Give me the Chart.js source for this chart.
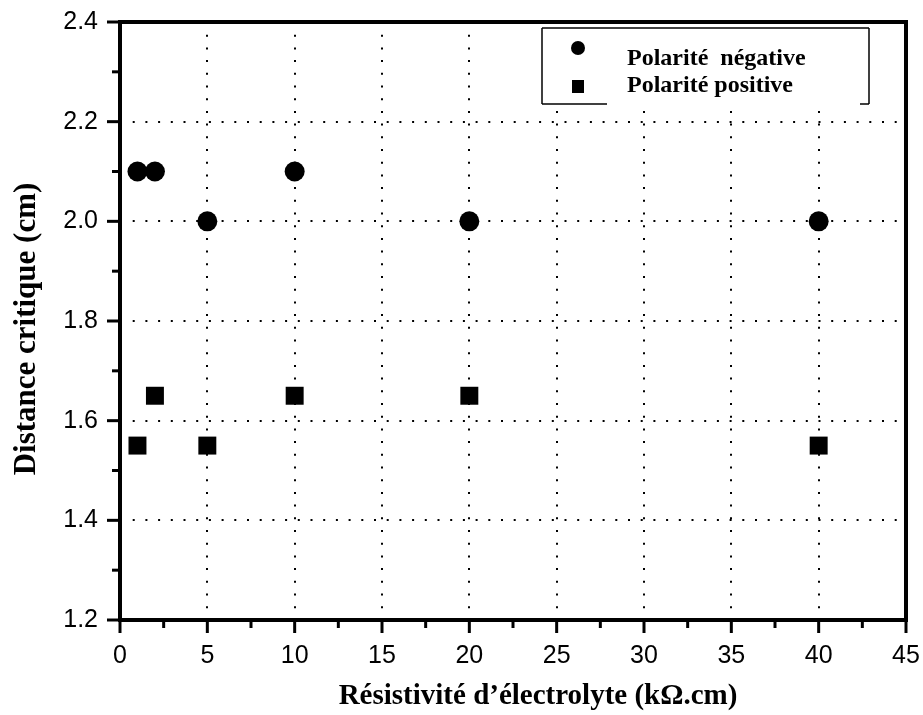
<!DOCTYPE html>
<html>
<head>
<meta charset="utf-8">
<script src="https://cdn.jsdelivr.net/npm/chart.js@4/dist/chart.umd.min.js"></script>
<style>
  html, body { margin: 0; padding: 0; background: #fff; }
  #wrap { width: 923px; height: 715px; }
</style>
</head>
<body>
<div id="wrap"><canvas id="c" width="923" height="715"></canvas></div>
<script>
// Critical distance versus electrolyte resistivity, for both polarities
const resistivity = [1, 2, 5, 10, 20, 40];                 // kΩ.cm
const negativePolarity = [2.1, 2.1, 2.0, 2.1, 2.0, 2.0];   // cm
const positivePolarity = [1.55, 1.65, 1.55, 1.65, 1.65, 1.55]; // cm

const seriesNames = ['Polarité  négative', 'Polarité positive'];
const xTitle = 'Résistivité d\u2019électrolyte (kΩ.cm)';
const yTitle = 'Distance critique (cm)';

const xTickValues = [0, 5, 10, 15, 20, 25, 30, 35, 40, 45];
const yTickValues = [1.2, 1.4, 1.6, 1.8, 2.0, 2.2, 2.4];
const xMinorValues = [2.5, 7.5, 12.5, 17.5, 22.5, 27.5, 32.5, 37.5, 42.5];
const yMinorValues = [1.3, 1.5, 1.7, 1.9, 2.1, 2.3];

const toPoints = ys => resistivity.map((r, i) => ({ x: r, y: ys[i] }));

const TICK_FONT = { family: 'Liberation Sans', size: 25 };
const X_TITLE_FONT = 'bold 29px "Liberation Serif"';
const Y_TITLE_FONT = 'bold 31px "Liberation Serif"';
const LEGEND_FONT = 'bold 24px "Liberation Serif"';

// Frame, outward major/minor ticks, axis titles and the legend box
const decorations = {
  id: 'decorations',
  afterDraw(chart) {
    const { ctx, chartArea: a, scales: { x, y } } = chart;
    ctx.save();
    ctx.strokeStyle = '#000';
    ctx.fillStyle = '#000';
    ctx.lineCap = 'butt';

    const seg = (x1, y1, x2, y2) => { ctx.beginPath(); ctx.moveTo(x1, y1); ctx.lineTo(x2, y2); ctx.stroke(); };

    ctx.lineWidth = 3;
    xTickValues.forEach(v => { const p = x.getPixelForValue(v); seg(p, a.bottom, p, a.bottom + 13); });
    xMinorValues.forEach(v => { const p = x.getPixelForValue(v); seg(p, a.bottom, p, a.bottom + 8); });
    yTickValues.forEach(v => { const p = y.getPixelForValue(v); seg(a.left, p, a.left - 13, p); });
    yMinorValues.forEach(v => { const p = y.getPixelForValue(v); seg(a.left, p, a.left - 8, p); });

    ctx.lineWidth = 4;
    ctx.strokeRect(a.left, a.top, a.right - a.left, a.bottom - a.top);

    // axis titles
    ctx.textAlign = 'center';
    ctx.textBaseline = 'alphabetic';
    ctx.font = X_TITLE_FONT;
    ctx.fillText(xTitle, 538, 704);
    ctx.save();
    ctx.font = Y_TITLE_FONT;
    ctx.translate(35, 329);
    ctx.rotate(-Math.PI / 2);
    ctx.fillText(yTitle, 0, 0);
    ctx.restore();

    // legend
    const L = 542, R = 869, T = 28, B = 104;
    ctx.fillStyle = '#fff';
    ctx.fillRect(L, T, R - L, B - T);
    ctx.fillStyle = '#000';
    ctx.lineWidth = 1.5;
    seg(L, B, L, T); seg(L, T, R, T); seg(R, T, R, B);
    seg(L, B, 607, B); seg(860, B, R, B);

    ctx.beginPath(); ctx.arc(578, 48, 7, 0, Math.PI * 2); ctx.fill();
    ctx.fillRect(572, 80, 12, 13);

    ctx.font = LEGEND_FONT;
    ctx.textAlign = 'left';
    ctx.fillText(seriesNames[0], 627, 65);
    ctx.fillText(seriesNames[1], 627, 92);
    ctx.restore();
  }
};

const gridColor = edges => c => (edges.includes(c.tick.value) ? 'rgba(0,0,0,0)' : '#000');

new Chart(document.getElementById('c'), {
  type: 'scatter',
  data: {
    datasets: [
      { label: seriesNames[0], data: toPoints(negativePolarity), pointStyle: 'circle',
        pointRadius: 10, pointBorderWidth: 0, backgroundColor: '#000', borderColor: '#000' },
      { label: seriesNames[1], data: toPoints(positivePolarity), pointStyle: 'rect',
        pointRadius: 12.7, pointBorderWidth: 0, backgroundColor: '#000', borderColor: '#000' }
    ]
  },
  options: {
    responsive: false,
    devicePixelRatio: 1,
    animation: false,
    layout: { padding: { top: 22, right: 17, left: 0, bottom: 0 } },
    plugins: { legend: { display: false }, tooltip: { enabled: false } },
    scales: {
      x: {
        type: 'linear', min: 0, max: 45,
        afterBuildTicks: s => { s.ticks = xTickValues.map(v => ({ value: v })); },
        afterFit: s => { s.height = 95; s.paddingLeft = 0; s.paddingRight = 0; },
        ticks: { font: TICK_FONT, color: '#000', padding: 21, maxRotation: 0, callback: v => String(v) },
        grid: { drawTicks: false, lineWidth: 2, color: gridColor([0, 45]) },
        border: { display: false, dash: [2, 10.7] }
      },
      y: {
        type: 'linear', min: 1.2, max: 2.4,
        afterBuildTicks: s => { s.ticks = yTickValues.map(v => ({ value: v })); },
        afterFit: s => { s.width = 120; s.paddingTop = 0; s.paddingBottom = 0; },
        ticks: { font: TICK_FONT, color: '#000', padding: 22, callback: v => v.toFixed(1) },
        grid: { drawTicks: false, lineWidth: 2, color: gridColor([1.2, 2.4]) },
        border: { display: false, dash: [2, 10.7] }
      }
    }
  },
  plugins: [decorations]
});
</script>
</body>
</html>
